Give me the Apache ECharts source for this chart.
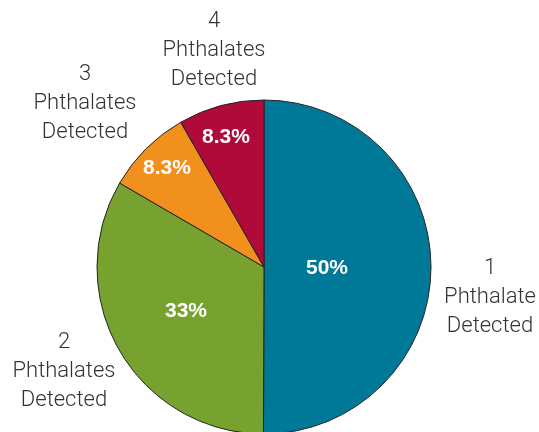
<!DOCTYPE html>
<html>
<head>
<meta charset="utf-8">
<script src="https://cdn.jsdelivr.net/npm/echarts@6/dist/echarts.min.js"></script>
<style>html,body{margin:0;padding:0;background:#fff}#c{width:539px;height:432px}</style>
</head>
<body>
<div id="c"></div>
<script>
const categories = ['1\nPhthalate\nDetected', '2\nPhthalates\nDetected', '3\nPhthalates\nDetected', '4\nPhthalates\nDetected'];
const values = [50, 33.3, 8.3, 8.3];
const percentLabels = ['50%', '33%', '8.3%', '8.3%'];
const colors = ['#007898', '#78a22f', '#f2901e', '#b00a3b'];

// label layout (positions only)
const insideLabelPos = [[327, 268], [186, 311], [167, 168], [226, 137]];
const outsideLabelPos = [[490, 297], [64, 371], [85, 103], [214, 50]];

const chart = echarts.init(document.getElementById('c'), null, {renderer: 'canvas'});
const center = [264, 267];
const radius = 167;

chart.setOption({
  animation: false,
  color: colors,
  series: [
    {
      type: 'pie',
      center: center,
      radius: radius,
      startAngle: 90,
      clockwise: true,
      avoidLabelOverlap: false,
      itemStyle: {borderColor: '#222', borderWidth: 1},
      emphasis: {disabled: true},
      data: categories.map((c, i) => ({name: c, value: values[i]})),
      label: {
        show: true,
        position: 'inside',
        formatter: p => percentLabels[p.dataIndex],
        color: '#fff',
        fontFamily: '"Liberation Sans", Arial, sans-serif',
        fontWeight: 'bold',
        fontSize: 21
      },
      labelLine: {show: false},
      labelLayout: p => ({x: insideLabelPos[p.dataIndex][0], y: insideLabelPos[p.dataIndex][1], align: 'center', verticalAlign: 'middle'})
    },
    {
      type: 'pie',
      center: center,
      radius: radius,
      startAngle: 90,
      clockwise: true,
      silent: true,
      avoidLabelOverlap: false,
      itemStyle: {color: 'rgba(0,0,0,0)', borderWidth: 0},
      data: categories.map((c, i) => ({name: c, value: values[i]})),
      label: {
        show: true,
        position: 'outside',
        formatter: p => p.name,
        color: '#333',
        fontFamily: 'Roboto, "Liberation Sans", sans-serif',
        fontWeight: 300,
        fontSize: 22,
        lineHeight: 29,
        align: 'center'
      },
      labelLine: {show: false},
      labelLayout: p => ({x: outsideLabelPos[p.dataIndex][0], y: outsideLabelPos[p.dataIndex][1], align: 'center', verticalAlign: 'middle'})
    }
  ]
});
</script>
</body>
</html>
